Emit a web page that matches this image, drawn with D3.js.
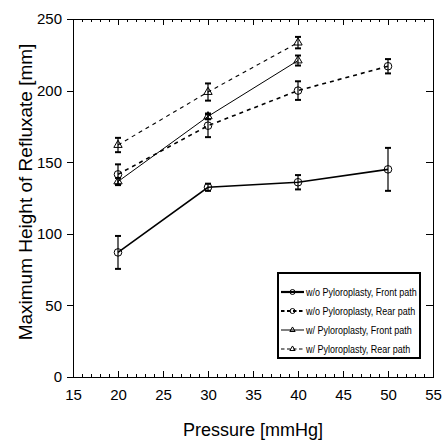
<!DOCTYPE html>
<html>
<head>
<meta charset="utf-8">
<script src="https://cdn.jsdelivr.net/npm/d3@7"></script>
<style>
  body { margin: 0; background: #fff; }
  #graphic { width: 444px; height: 441px; }
  text { font-family: Arial, "Liberation Sans", sans-serif; fill: #000; }
  .axis path, .axis line { stroke: #000; stroke-width: 1px; shape-rendering: crispEdges; }
</style>
</head>
<body>
<div id="graphic"></div>
<script>
// pressure values (x)
const pressures = [20, 30, 40, 50];
const xTicks = [15, 20, 25, 30, 35, 40, 45, 50, 55];
const yTicks = [0, 50, 100, 150, 200, 250];

// w/o Pyloroplasty
const woFrontMean = [87, 132.5, 136, 145];
const woFrontErr  = [11.5, 2.5, 5, 15];
const woRearMean  = [141.5, 175.5, 200, 217];
const woRearErr   = [7, 8, 6.5, 5];

// w/ Pyloroplasty (only 20, 30, 40)
const wFrontMean = [136.5, 182, 221];
const wFrontErr  = [2.5, 2, 3.5];
const wRearMean  = [162, 199, 233.5];
const wRearErr   = [5, 6, 4];

const seriesLabels = [
  "w/o Pyloroplasty, Front path",
  "w/o Pyloroplasty, Rear path",
  "w/ Pyloroplasty, Front path",
  "w/ Pyloroplasty, Rear path"
];

const Chart = {
  create(opts){
    const instance = Object.create(this);
    Object.keys(opts).forEach(function(key){
      instance[key] = opts[key];
    });
    return instance;
  },
  margin: { left: 73, right: 11, top: 19, bottom: 64 },
  el: "#graphic",
  outerWidth: 444,
  outerHeight: 441,
  parameters(){
    this.width = this.outerWidth - this.margin.left - this.margin.right;
    this.height = this.outerHeight - this.margin.top - this.margin.bottom;
  },
  buildSeries(){
    const pack = (means, errs) => means.map((m, i) => ({ x: pressures[i], y: m, e: errs[i] }));
    this.series = [
      { name: seriesLabels[0], data: pack(woFrontMean, woFrontErr), marker: "circle", dash: null, width: 1.6 },
      { name: seriesLabels[1], data: pack(woRearMean, woRearErr), marker: "circle", dash: "4,4", width: 1.6 },
      { name: seriesLabels[2], data: pack(wFrontMean, wFrontErr), marker: "triangle", dash: null, width: 1 },
      { name: seriesLabels[3], data: pack(wRearMean, wRearErr), marker: "triangle", dash: "4,4", width: 1.1 }
    ];
  },
  createScales(){
    this.xScale = d3.scaleLinear().domain([15, 55]).range([0, this.width]);
    this.yScale = d3.scaleLinear().domain([0, 250]).range([this.height, 0]);
  },
  drawPlot(){
    document.querySelector(this.el).innerHTML = "";
    this.svg = d3.select(this.el).append("svg")
      .attr("width", this.outerWidth)
      .attr("height", this.outerHeight);
    this.plot = this.svg.append("g")
      .attr("transform", `translate(${this.margin.left}, ${this.margin.top})`);
  },
  drawAxes(){
    const minor = d3.range(15, 56, 1).filter(d => d % 5 !== 0);

    // left
    this.plot.append("g").attr("class", "axis yaxis")
      .call(d3.axisLeft(this.yScale).tickValues(yTicks).tickSize(6).tickSizeOuter(0).tickPadding(5))
      .call(g => g.selectAll("text").style("font-size", "15px"));

    // right, no labels
    this.plot.append("g").attr("class", "axis")
      .attr("transform", `translate(${this.width},0)`)
      .call(d3.axisRight(this.yScale).tickValues(yTicks).tickSize(-7).tickSizeOuter(0).tickFormat(""));

    // bottom
    this.plot.append("g").attr("class", "axis xaxis")
      .attr("transform", `translate(0,${this.height})`)
      .call(d3.axisBottom(this.xScale).tickValues(xTicks).tickSize(-6).tickSizeOuter(0).tickPadding(12))
      .call(g => g.selectAll("text").style("font-size", "15px"));
    this.plot.append("g").attr("class", "axis")
      .attr("transform", `translate(0,${this.height})`)
      .call(d3.axisBottom(this.xScale).tickValues(minor).tickSize(-3).tickSizeOuter(0).tickFormat(""))
      .call(g => g.select(".domain").remove());

    // top
    this.plot.append("g").attr("class", "axis")
      .call(d3.axisTop(this.xScale).tickValues(xTicks).tickSize(-6).tickSizeOuter(0).tickFormat(""));
    this.plot.append("g").attr("class", "axis")
      .call(d3.axisTop(this.xScale).tickValues(minor).tickSize(-3).tickSizeOuter(0).tickFormat(""))
      .call(g => g.select(".domain").remove());

    this.plot.selectAll(".axis text").attr("fill", "#000");

    // titles
    this.svg.append("text")
      .attr("x", this.margin.left + this.width / 2)
      .attr("y", 436)
      .attr("text-anchor", "middle")
      .style("font-size", "18px")
      .text("Pressure [mmHg]");

    this.svg.append("text")
      .attr("transform", "translate(32,192) rotate(-90)")
      .attr("text-anchor", "middle")
      .style("font-size", "19px")
      .text("Maximum Height of Refluxate [mm]");
  },
  drawMarker(sel, type, small){
    if (type === "circle") {
      sel.append("circle").attr("r", small ? 2.5 : 3.8)
        .attr("fill", "none").attr("stroke", "#000").attr("stroke-width", 1);
    } else {
      sel.append("path")
        .attr("d", d3.symbol(d3.symbolTriangle, small ? 12 : 30)())
        .attr("fill", "none").attr("stroke", "#000").attr("stroke-width", 1);
    }
  },
  drawData(){
    const that = this;
    const line = d3.line()
      .x(d => this.xScale(d.x))
      .y(d => this.yScale(d.y));

    this.series.forEach(s => {
      const g = this.plot.append("g");

      g.append("path")
        .datum(s.data)
        .attr("fill", "none")
        .attr("stroke", "#000")
        .attr("stroke-width", s.width)
        .attr("stroke-dasharray", s.dash)
        .attr("d", line);

      // error bars
      const eb = g.selectAll(".err").data(s.data).enter().append("g")
        .attr("class", "err")
        .attr("stroke", "#000");
      eb.append("line")
        .attr("x1", d => this.xScale(d.x)).attr("x2", d => this.xScale(d.x))
        .attr("y1", d => this.yScale(d.y - d.e)).attr("y2", d => this.yScale(d.y + d.e))
        .attr("stroke-width", 1.2);
      [-1, 1].forEach(sign => {
        eb.append("line")
          .attr("x1", d => this.xScale(d.x) - 3).attr("x2", d => this.xScale(d.x) + 3)
          .attr("y1", d => this.yScale(d.y + sign * d.e)).attr("y2", d => this.yScale(d.y + sign * d.e))
          .attr("stroke-width", 2);
      });

      // markers
      const mk = g.selectAll(".mk").data(s.data).enter().append("g")
        .attr("class", "mk")
        .attr("transform", d => `translate(${this.xScale(d.x)},${this.yScale(d.y)})`);
      mk.each(function(){ that.drawMarker(d3.select(this), s.marker, false); });
    });
  },
  drawLegend(){
    const lx = 278, ly = 273, lw = 142, lh = 85;
    const lg = this.svg.append("g").attr("class", "legend");
    lg.append("rect")
      .attr("x", lx).attr("y", ly).attr("width", lw).attr("height", lh)
      .attr("fill", "#fff").attr("stroke", "#000").attr("stroke-width", 2);

    const rowY = d3.scalePoint().domain(d3.range(this.series.length)).range([292, 349]);

    this.series.forEach((s, i) => {
      const y = rowY(i);
      lg.append("line")
        .attr("x1", 281).attr("x2", 304).attr("y1", y).attr("y2", y)
        .attr("stroke", "#000")
        .attr("stroke-width", s.width + (i < 2 ? 0.6 : 0))
        .attr("stroke-dasharray", s.dash ? "3.5,2.5" : null);
      const m = lg.append("g").attr("transform", `translate(292.5,${y})`);
      this.drawMarker(m, s.marker, true);
      lg.append("text")
        .attr("transform", `translate(306,${y}) scale(0.84,1)`)
        .attr("dy", "0.35em")
        .style("font-size", "10.7px")
        .text(s.name);
    });
  },
  draw(){
    this.parameters();
    this.buildSeries();
    this.createScales();
    this.drawPlot();
    this.drawAxes();
    this.drawData();
    this.drawLegend();
  }
};

Chart.create({}).draw();
</script>
</body>
</html>
